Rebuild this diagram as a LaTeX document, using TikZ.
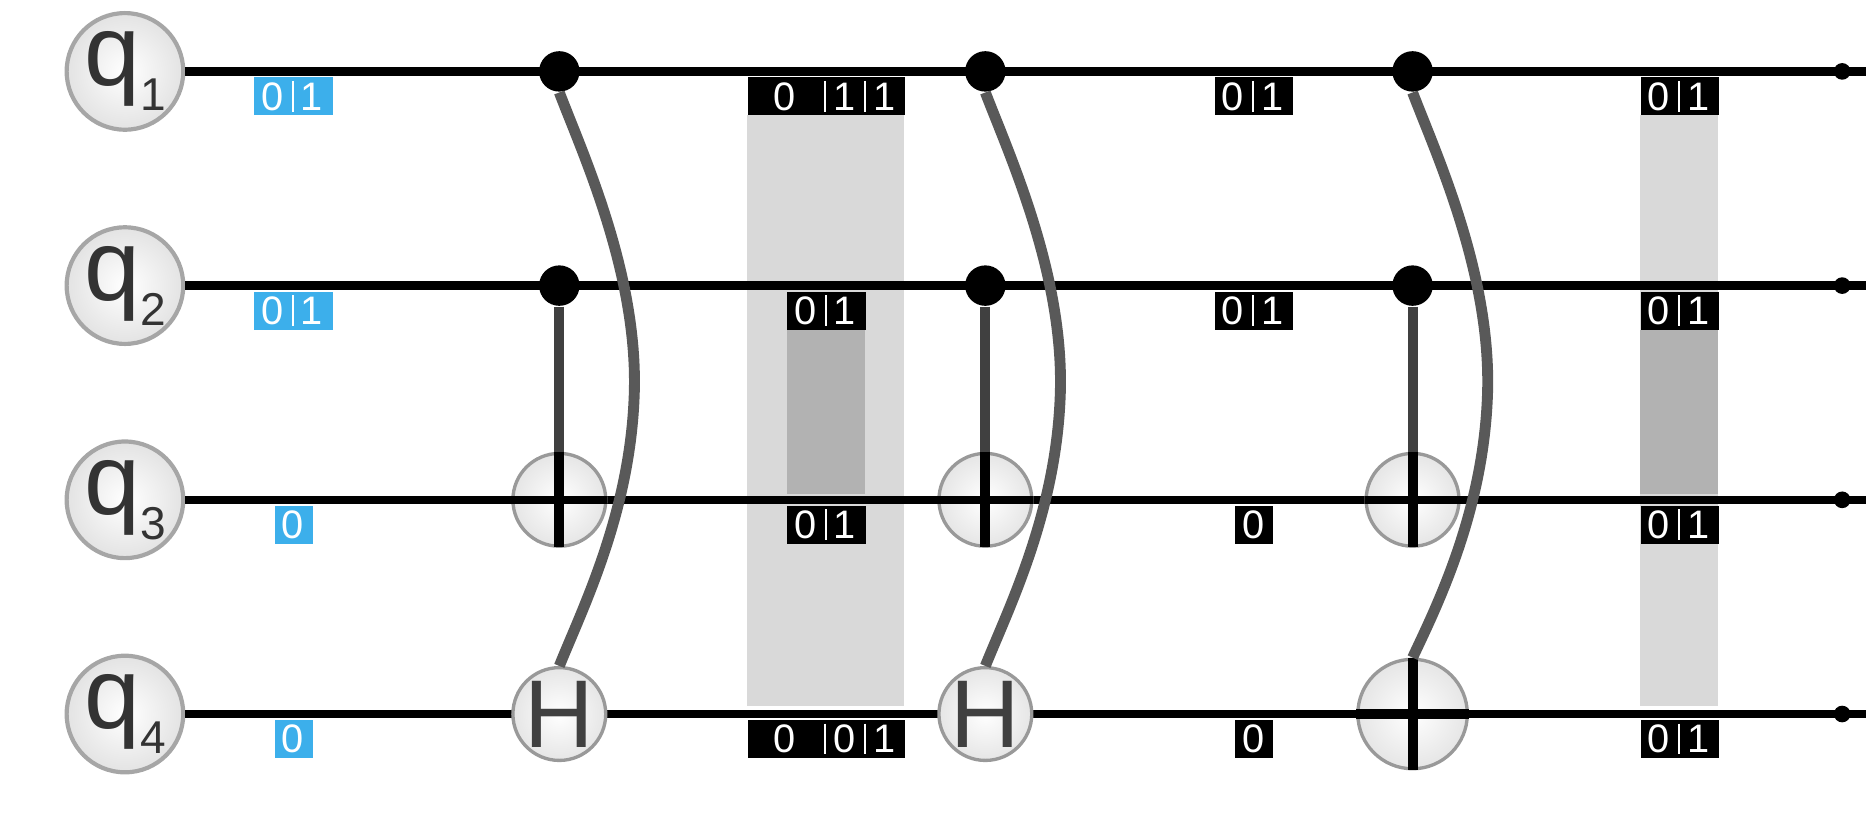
\documentclass[tikz,border=0pt]{standalone}
\usepackage{fontspec}
\setmainfont{Liberation Sans}
\definecolor{qblue}{RGB}{60,175,235}
\begin{document}
\begin{tikzpicture}[x=0.01cm,y=-0.01cm,
  qub/.style={circle, minimum size=98*0.01cm, draw=gray!70, line width=1pt, inner color=white, outer color=gray!22, inner sep=0pt},
  box/.style={inner sep=0pt, minimum height=32*0.01cm, anchor=west},
  dig/.style={text=white, inner sep=0pt, font=\fontsize{9.5}{9.5}\selectfont},
  sepl/.style={white, line width=0.5pt},
  ctrl/.style={circle, fill=black, minimum size=34*0.01cm, inner sep=0pt},
  gcirc/.style={circle, draw=gray!80, line width=0.8pt, inner color=white, outer color=gray!20, minimum size=78*0.01cm, inner sep=0pt},
  htext/.style={inner sep=0pt, font=\fontsize{23}{23}\selectfont, text=black!75},
  wire/.style={line width=2pt, black},
  bar/.style={line width=2.4pt, black!75},
  pbar/.style={line width=2.4pt, black},
  curve/.style={line width=2.6pt, black!65},
  lcol/.style={fill=gray!30},
  dcol/.style={fill=gray!60}]
\useasboundingbox (0,0) rectangle (1568,685);
% gray columns
\fill[lcol] (628,97) rectangle (760,593);
\fill[dcol] (661,277) rectangle (727,415);
\fill[lcol] (1378,97) rectangle (1444,593);
\fill[dcol] (1378,277) rectangle (1444,415);
% wires
\foreach \i/\y in {1/60,2/240,3/420,4/600}{
  \node[qub] (q\i) at (105,\y) {\fontsize{24}{24}\selectfont\color{black!80}q\raisebox{-6pt}{\fontsize{11}{11}\selectfont \i}};
  \coordinate (e\i) at (1568,\y);
  \draw[wire] (q\i) -- (e\i);
  \node[circle,fill=black,minimum size=14*0.01cm,inner sep=0pt] (d\i) at (1548,\y) {};
}
% labels: two-digit
\foreach \n/\x/\y/\c in {b1/213/81/qblue, b2/213/261/qblue, k12/661/261/black, k13/661/441/black,
   k21/1020/81/black, k22/1020/261/black, k31/1378/81/black, k32/1378/261/black, k33/1378/441/black, k34/1378/621/black}{
  \node[box,fill=\c,minimum width=66*0.01cm] (\n) at (\x,\y) {};
  \node[dig] (\n a) at (\x+16,\y) {0};
  \node[dig] (\n b) at (\x+49,\y) {1};
  \draw[sepl] (\x+33,\y-13) -- (\x+33,\y+13);
}
% one-digit
\foreach \n/\x/\y/\c in {b3/230/441/qblue, b4/230/621/qblue, k23/1037/441/black, k24/1037/621/black}{
  \node[box,fill=\c,minimum width=32*0.01cm] (\n) at (\x,\y) {};
  \node[dig] (\n a) at (\x+16,\y) {0};
}
% three-digit
\foreach \n/\y/\m in {k11/81/1, k14/621/0}{
  \node[box,fill=black,minimum width=132*0.01cm] (\n) at (628,\y) {};
  \node[dig] (\n a) at (659,\y) {0};
  \node[dig] (\n b) at (710,\y) {\m};
  \node[dig] (\n c) at (743,\y) {1};
  \draw[sepl] (693,\y-13) -- (693,\y+13);
  \draw[sepl] (727,\y-13) -- (727,\y+13);
}
% gates 1 and 2
\foreach \g/\x in {a/470,b/828}{
  \node[gcirc] (x\g) at (\x,420) {};
  \node[gcirc] (h\g) at (\x,600) {};
  \node[htext] (hl\g) at (\x,600) {H};
  \node[ctrl] (c1\g) at (\x,60) {};
  \node[ctrl] (c2\g) at (\x,240) {};
  \coordinate (t\g) at (\x,460);
  \draw[bar] (c2\g) -- (x\g.north);
  \draw[wire] (x\g.west) -- (x\g.east);
  \draw[pbar] (x\g.north) -- (t\g);
  \draw[curve] (c1\g.south) .. controls (\x+20,130) and (\x+66,230) .. (\x+63,330)
     .. controls (\x+60,430) and (\x+20,510) .. (h\g.north);
}
% gate 3
\node[gcirc] (xc) at (1187,420) {};
\node[gcirc,minimum size=92*0.01cm] (hc) at (1187,600) {};
\node[ctrl] (c1c) at (1187,60) {};
\node[ctrl] (c2c) at (1187,240) {};
\coordinate (tc) at (1187,460);
\draw[bar] (c2c) -- (xc.north);
\draw[wire] (xc.west) -- (xc.east);
\draw[pbar] (xc.north) -- (tc);
\draw[pbar] (hc.north) -- (hc.south);
\draw[pbar] (hc.west) -- (hc.east);
\draw[curve] (c1c.south) .. controls (1207,130) and (1253,230) .. (1250,330)
   .. controls (1247,430) and (1207,510) .. (hc.north);
\end{tikzpicture}
\end{document}
